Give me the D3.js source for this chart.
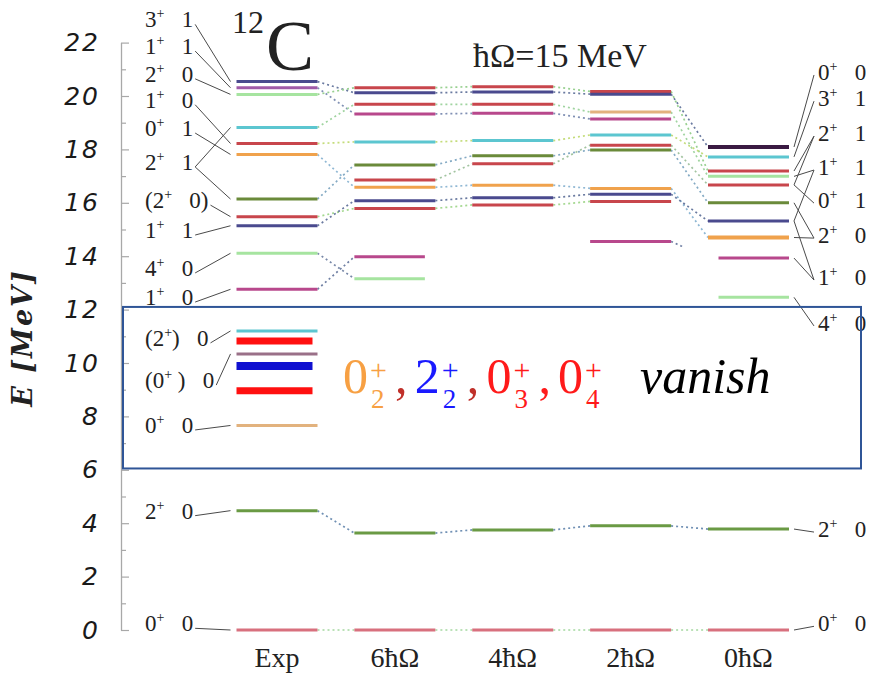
<!DOCTYPE html>
<html><head><meta charset="utf-8">
<script src="https://cdn.jsdelivr.net/npm/d3@7"></script>
<style>
body{margin:0;background:#fff;}
svg{display:block;}
</style></head><body>
<svg id="chart" width="881" height="674"></svg>
<script>
// ---------- DATA ----------
const columns = ["Exp", "6ħΩ", "4ħΩ", "2ħΩ", "0ħΩ"];
const yTicks = [0, 2, 4, 6, 8, 10, 12, 14, 16, 18, 20, 22];
const yMinorTicks = [1, 3, 5, 7, 9, 11, 13, 15, 17, 19, 21];

// Experimental levels (MeV)
const expEnergy = [20.54, 20.31, 20.06, 18.82, 18.22, 17.81, 16.14, 15.48, 15.14, 14.11, 12.76, 11.20, 10.34, 7.66, 4.47, 0];
const expKey    = ["B", "D", "A", "C", "E", "H", "F", "J", "I", "L", "K", "", "", "", "M", "N"];
const expColor  = ["navy", "purple", "lime", "cyan", "red", "orange", "olive", "red", "navy", "lime", "magenta", "cyan", "mauve", "tan", "green", "pink"];

// Vanishing states in the experimental column (annotations)
const vanishEnergy = [10.82, 9.89, 8.96];
const vanishColor  = ["vred", "vblue", "vred"];

// 6ħΩ
const n6Energy = [20.31, 20.12, 19.69, 19.33, 18.28, 17.42, 16.85, 16.58, 16.08, 15.79, 13.98, 13.16, 3.63, 0];
const n6Key    = ["A", "B", "C", "D", "E", "F", "G", "H", "I", "J", "K", "L", "M", "N"];
const n6Color  = ["red", "navy", "red", "magenta", "cyan", "olive", "red", "orange", "navy", "red", "magenta", "lime", "green", "pink"];

// 4ħΩ
const n4Energy = [20.35, 20.15, 19.69, 19.35, 18.33, 17.76, 17.46, 16.66, 16.19, 15.92, 3.75, 0];
const n4Key    = ["A", "B", "C", "D", "E", "F", "G", "H", "I", "J", "M", "N"];
const n4Color  = ["red", "navy", "red", "magenta", "cyan", "olive", "red", "orange", "navy", "red", "green", "pink"];

// 2ħΩ
const n2Energy = [20.17, 20.07, 19.40, 19.14, 18.54, 18.16, 17.98, 16.54, 16.32, 16.05, 14.55, 3.90, 0];
const n2Key    = ["A", "B", "C", "D", "E", "G", "F", "H", "I", "J", "K", "M", "N"];
const n2Color  = ["red", "navy", "tan", "magenta", "cyan", "red", "olive", "orange", "navy", "red", "magenta", "green", "pink"];

// 0ħΩ
const n0Energy = [18.09, 17.72, 17.19, 16.99, 16.67, 16.00, 15.32, 14.70, 13.93, 12.46, 3.78, 0];
const n0Key    = ["B", "E", "A", "C", "G", "F", "I", "H", "K", "L", "M", "N"];
const n0Color  = ["dark", "cyan", "red", "lime", "red", "olive", "navy", "orange", "magenta", "lime", "green", "pink"];

// Level labels (spin-parity, isospin); anchor energy in MeV and linked level indices
const leftLabels  = ["3⁺ 1", "1⁺ 1", "2⁺ 0", "1⁺ 0", "0⁺ 1", "2⁺ 1", "(2⁺ 0)", "1⁺ 1", "4⁺ 0", "1⁺ 0", "(2⁺) 0", "(0⁺ ) 0", "0⁺ 0", "2⁺ 0", "0⁺ 0"];
const leftLabelE  = [22.87, 21.87, 20.83, 19.86, 18.80, 17.53, 16.10, 14.98, 13.56, 12.47, 10.94, 9.36, 7.68, 4.47, 0.25];
const leftLinks   = [[0], [1], [2], [4], [5], [3, 6], [7], [8], [9], [10], [11], [12], [13], [14], [15]];

const rightLabels = ["0⁺ 0", "3⁺ 1", "2⁺ 1", "1⁺ 1", "0⁺ 1", "2⁺ 0", "1⁺ 0", "4⁺ 0", "2⁺ 0", "0⁺ 0"];
const rightLabelE = [20.90, 19.92, 18.61, 17.34, 16.10, 14.79, 13.22, 11.50, 3.78, 0.25];
const rightLinks  = [[0], [1], [2, 4], [3, 6], [4], [5, 7], [6, 8], [9], [10], [11]];

const vanishTerms = [["0", "2"], ["2", "2"], ["0", "3"], ["0", "4"]];

// ---------- STYLES ----------
const palette = {
  navy: "#4a4a8e", purple: "#a05aa8", lime: "#a6e4a0", cyan: "#5cc6d0", red: "#c8464c",
  orange: "#f0a24c", olive: "#6a8a3a", magenta: "#b8488c", mauve: "#9a7088", tan: "#e2b27e",
  green: "#6a9a44", pink: "#d8707e", dark: "#3a1a42", vred: "#ff1010", vblue: "#1010d0"
};
const linkColor = {
  A: "#98d090", B: "#6a7aa0", C: "#a0d4a0", D: "#8090b4", E: "#c4dc7a", F: "#84aac4",
  G: "#a2c4a0", H: "#90b8d4", I: "#6a7aa0", J: "#a4d890", K: "#7080a4", L: "#7888a8",
  M: "#7090b4", N: "#a4d8a0"
};
const termColor = ["#f7a043", "#1a1aff", "#ff1a1a", "#ff1a1a"];
const commaColor = ["#c0302a", "#c0302a", "#ff1a1a"];

// ---------- CHART ----------
const svg = d3.select("#chart");
const y = d3.scaleLinear().domain([0, 22]).range([630, 42.6]);
const x = d3.scalePoint().domain(columns).range([277, 748.5]);
const half = 40.5;

const serif = "'Liberation Serif', 'Times New Roman', serif";

// axis
const axG = svg.append("g").attr("transform", "translate(121,0)");
axG.call(d3.axisLeft(y).tickValues(yTicks).tickSize(-8).tickSizeOuter(0).tickPadding(21).tickFormat(d3.format("d")));
const axMinor = svg.append("g").attr("transform", "translate(121,0)");
axMinor.call(d3.axisLeft(y).tickValues(yMinorTicks).tickSize(-5).tickFormat(""));
axMinor.select(".domain").remove();
svg.selectAll(".domain").attr("stroke", "#a8a8a8").attr("stroke-width", 1.3);
svg.selectAll(".tick line").attr("stroke", "#a8a8a8").attr("stroke-width", 1.2);
axG.selectAll(".tick text")
  .attr("font-family", "'DejaVu Sans', sans-serif")
  .attr("font-style", "italic")
  .attr("font-size", 25)
  .attr("letter-spacing", 2)
  .attr("fill", "#1a1a1a");

svg.append("text")
  .attr("transform", "translate(32,338) rotate(-90)")
  .attr("text-anchor", "middle")
  .attr("font-family", "'DejaVu Serif', serif")
  .attr("font-style", "italic")
  .attr("font-weight", "bold")
  .attr("font-size", 27)
  .attr("letter-spacing", 2)
  .attr("fill", "#222")
  .text("E [MeV]");

// columns
const cols = [
  {name: columns[0], E: expEnergy, K: expKey, C: expColor},
  {name: columns[1], E: n6Energy, K: n6Key, C: n6Color},
  {name: columns[2], E: n4Energy, K: n4Key, C: n4Color},
  {name: columns[3], E: n2Energy, K: n2Key, C: n2Color},
  {name: columns[4], E: n0Energy, K: n0Key, C: n0Color}
];

// dotted connectors
const connG = svg.append("g");
for (let i = 0; i < cols.length - 1; i++) {
  const a = cols[i], b = cols[i + 1];
  a.K.forEach((k, ia) => {
    if (!k) return;
    const ib = b.K.indexOf(k);
    if (ib < 0) return;
    connG.append("line")
      .attr("x1", x(a.name) + half).attr("y1", y(a.E[ia]))
      .attr("x2", x(b.name) - half).attr("y2", y(b.E[ib]))
      .attr("stroke", linkColor[k])
      .attr("stroke-width", 1.7)
      .attr("stroke-dasharray", "2,3");
  });
}

// level lines
const lvlG = svg.append("g");
cols.forEach(c => {
  lvlG.selectAll(null).data(c.E.map((e, i) => ({e, col: c.C[i]}))).join("line")
    .attr("x1", x(c.name) - half).attr("x2", x(c.name) + half)
    .attr("y1", d => y(d.e)).attr("y2", d => y(d.e))
    .attr("stroke", d => palette[d.col])
    .attr("stroke-width", d => (d.col === "dark" || (c.name === "0ħΩ" && d.col === "orange")) ? 4 : 3);
});

// vanishing bars
lvlG.selectAll(null).data(vanishEnergy.map((e, i) => ({e, col: vanishColor[i]}))).join("line")
  .attr("x1", x("Exp") - half).attr("x2", x("Exp") + half - 5)
  .attr("y1", d => y(d.e)).attr("y2", d => y(d.e))
  .attr("stroke", d => palette[d.col])
  .attr("stroke-width", d => d.col === "vblue" ? 8 : 7);

// labels
function drawLabel(s, xp, yc) {
  const parts = s.split("⁺");
  const after = parts[1].replace(" )", "\u2005)").replace(/ /g, "\u2002\u2005");
  const t = svg.append("text")
    .attr("x", xp).attr("y", yc + 8)
    .attr("font-family", serif).attr("font-size", 23).attr("fill", "#222");
  t.append("tspan").text(parts[0]);
  t.append("tspan").attr("dy", -9).attr("font-size", 14).text("+");
  t.append("tspan").attr("dy", 9).text(after);
  return t.node().getBBox();
}
const lblLineG = svg.append("g").attr("stroke", "#4a4a4a").attr("stroke-width", 1);
leftLabels.forEach((s, i) => {
  const yc = y(leftLabelE[i]);
  const bb = drawLabel(s, 145, yc);
  leftLinks[i].forEach(li => {
    lblLineG.append("line")
      .attr("x1", bb.x + bb.width + 2).attr("y1", yc + 5)
      .attr("x2", x("Exp") - half - 6).attr("y2", y(expEnergy[li]));
  });
});
rightLabels.forEach((s, i) => {
  const yc = y(rightLabelE[i]);
  drawLabel(s, 818, yc);
  rightLinks[i].forEach(li => {
    lblLineG.append("line")
      .attr("x1", x("0ħΩ") + half + 5).attr("y1", y(n0Energy[li]))
      .attr("x2", 814).attr("y2", yc + 3);
  });
});

// blank patch (as in the reference)
svg.append("rect")
  .attr("x", x("6ħΩ") + 30).attr("y", y(14.35))
  .attr("width", (x("0ħΩ") - 30) - (x("6ħΩ") + 30))
  .attr("height", y(12.1) - y(14.35))
  .attr("fill", "#fff");

// column labels
svg.selectAll(null).data(columns).join("text")
  .attr("x", d => x(d)).attr("y", 667)
  .attr("text-anchor", "middle")
  .attr("font-family", serif).attr("font-size", 28).attr("fill", "#222")
  .text(d => d);

// title
svg.append("text").attr("x", 232).attr("y", 33)
  .attr("font-family", serif).attr("font-size", 32).attr("fill", "#222").text("12");
svg.append("text").attr("x", 266).attr("y", 70)
  .attr("font-family", serif).attr("font-size", 72).attr("fill", "#222").text("C");
svg.append("text").attr("x", 473).attr("y", 67)
  .attr("font-family", serif).attr("font-size", 34).attr("fill", "#222")
  .text("ħΩ=15 MeV");

// box
svg.append("rect")
  .attr("x", 123).attr("y", y(12.1))
  .attr("width", 738).attr("height", y(6.05) - y(12.1))
  .attr("fill", "none").attr("stroke", "#2f5597").attr("stroke-width", 2);

// box text
const base = 393;
vanishTerms.forEach((t, i) => {
  const x0 = 343 + i * 71.7;
  svg.append("text").attr("x", x0).attr("y", base)
    .attr("font-family", serif).attr("font-size", 50).attr("fill", termColor[i]).text(t[0]);
  svg.append("text").attr("x", x0 + 27).attr("y", base - 13)
    .attr("font-family", serif).attr("font-size", 30).attr("fill", termColor[i]).text("+");
  svg.append("text").attr("x", x0 + 28).attr("y", base + 15)
    .attr("font-family", serif).attr("font-size", 27).attr("fill", termColor[i]).text(t[1]);
  if (i < vanishTerms.length - 1) {
    svg.append("text").attr("x", x0 + 52).attr("y", base)
      .attr("font-family", serif).attr("font-size", 50).attr("fill", commaColor[i]).text(",");
  }
});
svg.append("text").attr("x", 640).attr("y", base)
  .attr("font-family", serif).attr("font-style", "italic").attr("font-size", 50)
  .attr("fill", "#000").text("vanish");
</script>
</body></html>
